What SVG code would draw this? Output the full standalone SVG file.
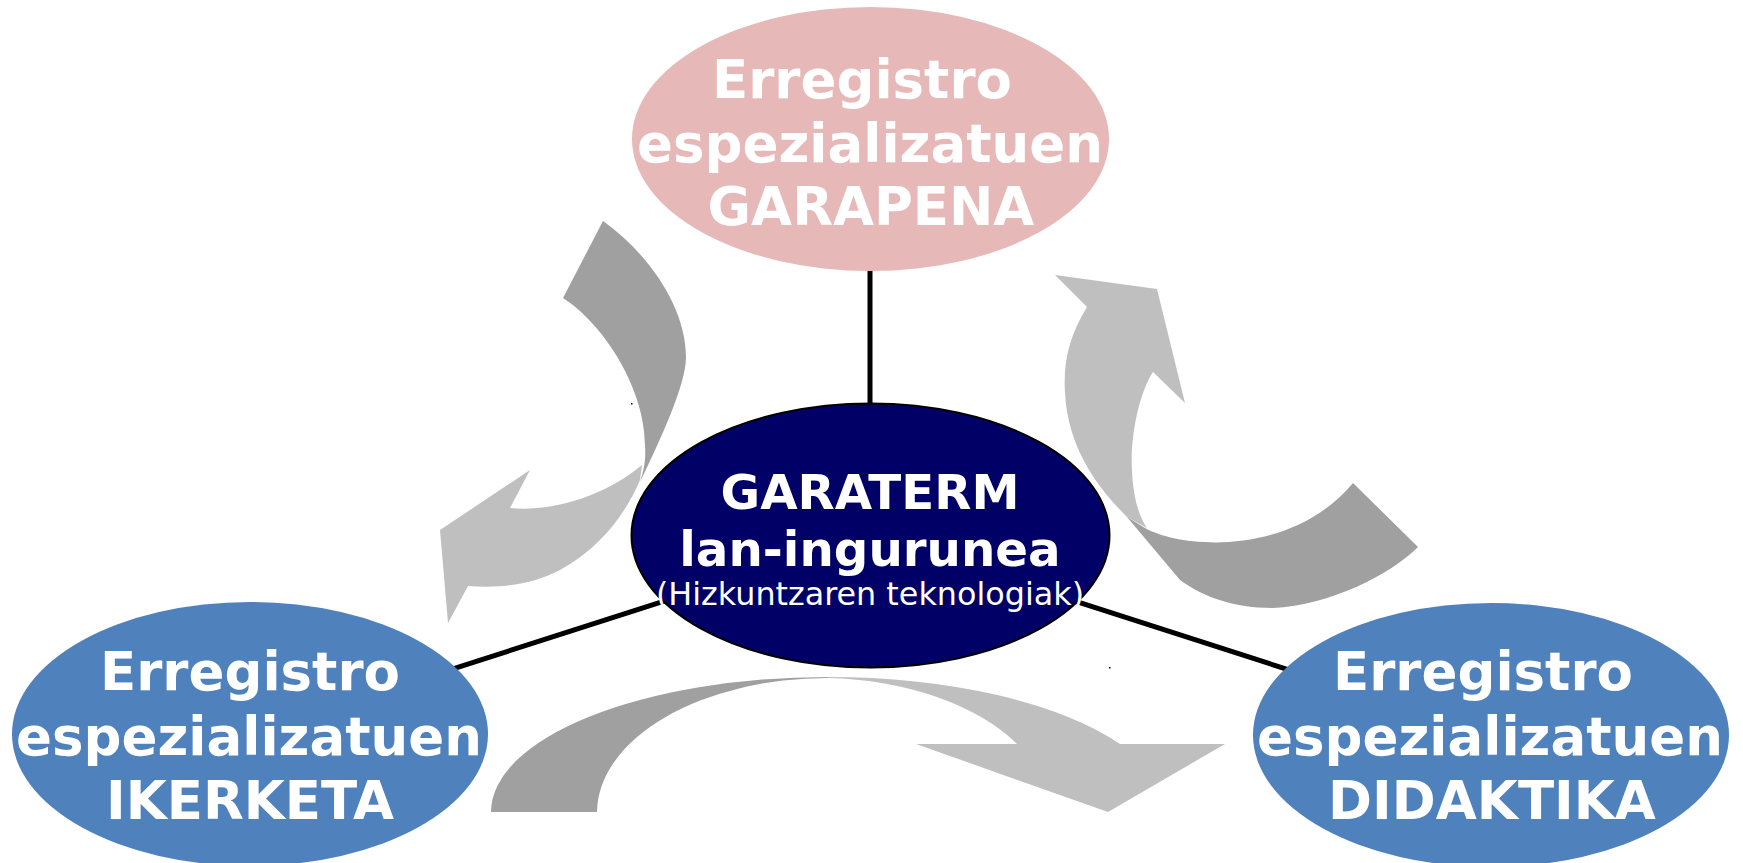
<svg xmlns="http://www.w3.org/2000/svg" width="1743" height="863" viewBox="0 0 1743 863">
  <style>
    .conn { stroke: #000000; stroke-width: 5; fill: none; }
    .dark { fill: #A0A0A0; }
    .light { fill: #BFBFBF; }
    .big { font-family: "DejaVu Sans", "Liberation Sans", sans-serif; font-weight: bold; fill: #FFFFFF; text-anchor: middle; }
    .t53 { font-size: 53px; }
    .t48 { font-size: 48.3px; }
    .sub { font-family: "DejaVu Sans", "Liberation Sans", sans-serif; font-size: 31.8px; fill: #FFFFFF; text-anchor: middle; }
    .dot { fill: #000000; }
  </style>
  <rect width="1743" height="863" fill="#FFFFFF"/>

  <g id="connectors">
    <line class="conn" x1="870" y1="139" x2="870" y2="535"/>
    <line class="conn" x1="870" y1="535" x2="250" y2="734"/>
    <line class="conn" x1="870" y1="535" x2="1491" y2="735"/>
  </g>

  <g id="arrow-left">
    <path class="dark" d="M603,221 C648,253 686,307 686,357 C686,385 660,440 640,482 C644,470 646,460 645,445 C645,390 605,325 563,298 Z"/>
    <path class="light" d="M640,480 C625,515 600,548 560,570 C535,583 505,589 468,586 L448,623 L440,530 L530,470 L510,508 C545,512 600,500 642,465 Z"/>
  </g>

  <g id="arrow-right">
    <path class="light" d="M1055,275 L1157,289 L1185,403 L1153,372 C1138,395 1130,440 1132,470 C1133,495 1138,515 1147,528 L1127,517 C1100,490 1068,450 1065,393 C1063,360 1070,335 1087,307 Z"/>
    <path class="dark" d="M1145,528 C1180,548 1290,558 1353,483 L1418,547 C1390,575 1330,605 1273,608 C1235,608 1205,598 1180,580 L1127,517 Z"/>
  </g>

  <g id="arrow-bottom">
    <path class="dark" d="M491,812 A337,135 0 0 1 828,677 L828,678 A231,135 0 0 0 597,812 Z"/>
    <path class="light" d="M828,677 A337,135 0 0 1 1120,744 L1225,744 L1108,812 L916,744 L1017,744 A231,135 0 0 0 828,678 Z"/>
  </g>

  <g id="node-garapena">
    <ellipse cx="870.5" cy="139" rx="238.5" ry="132" fill="#E6B8B7"/>
    <text class="big t53" x="862" y="98">Erregistro</text>
    <text class="big t53" x="870" y="162">espezializatuen</text>
    <text class="big t53" x="871" y="225">GARAPENA</text>
  </g>

  <g id="node-ikerketa">
    <ellipse cx="250" cy="734" rx="238" ry="132" fill="#4F81BD"/>
    <text class="big t53" x="250" y="690">Erregistro</text>
    <text class="big t53" x="249" y="755">espezializatuen</text>
    <text class="big t53" x="250" y="819">IKERKETA</text>
  </g>

  <g id="node-didaktika">
    <ellipse cx="1491" cy="735" rx="238" ry="132" fill="#4F81BD"/>
    <text class="big t53" x="1483" y="690">Erregistro</text>
    <text class="big t53" x="1490" y="755">espezializatuen</text>
    <text class="big t53" x="1492" y="819">DIDAKTIKA</text>
  </g>

  <g id="node-garaterm">
    <ellipse cx="870.5" cy="535.5" rx="239" ry="132" fill="#000066" stroke="#000000" stroke-width="2"/>
    <text class="big t48" x="870" y="509">GARATERM</text>
    <text class="big t48" x="870" y="566">lan-ingurunea</text>
    <text class="sub" x="870" y="605">(Hizkuntzaren teknologiak)</text>
    <rect class="dot" x="631" y="403" width="1.5" height="1.5"/>
    <rect class="dot" x="1109" y="667" width="1.5" height="1.5"/>
  </g>
</svg>
